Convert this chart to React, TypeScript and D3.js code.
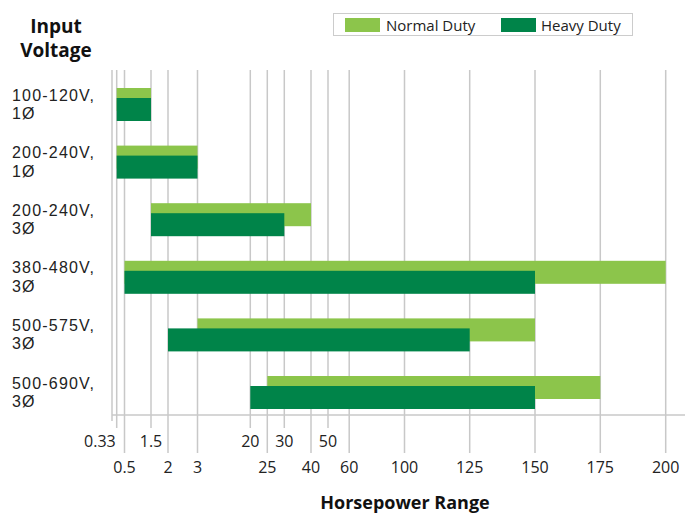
import React from 'react';
import * as d3 from 'd3';

// input voltage categories (two-line labels)
const categories = ['100-120V,|1Ø', '200-240V,|1Ø', '200-240V,|3Ø', '380-480V,|3Ø', '500-575V,|3Ø', '500-690V,|3Ø'];
// horsepower ranges [from, to]
const normalDuty = [[0.33, 1.5], [0.33, 3], [1.5, 40], [0.5, 200], [3, 150], [25, 175]];
const heavyDuty = [[0.33, 1.5], [0.33, 3], [1.5, 30], [0.5, 150], [2, 125], [20, 150]];
// x axis ticks, staggered on two rows
const tickValues = [0.33, 0.5, 1.5, 2, 3, 20, 25, 30, 40, 50, 60, 100, 125, 150, 175, 200];
const upperTicks = [0.33, 1.5, 20, 30, 50];
const tickLabels = ['0.33', '0.5', '1.5', '2', '3', '20', '25', '30', '40', '50', '60', '100', '125', '150', '175', '200'];

const W = 685;
const H = 517;
const font = '"Open Sans", "Noto Sans", sans-serif';
// tighter line box so the two-line labels can sit close together
const labelFont = '"Liberation Sans", Arial, sans-serif';
const light = '#8cc54b';
const dark = '#008449';
const grid = '#c8c8c8';

// the original axis is not linear, so it is a piecewise scale over the ticks
const tickPos = [116.7, 124.5, 151, 168, 197.5, 250.3, 267.3, 284.3, 311, 328, 349.2, 404.5, 469.7, 535, 600.3, 665.7];
const x = d3.scaleLinear().domain(tickValues).range(tickPos);
const y = d3.scalePoint().domain(categories).range([88, 376]);

const left = 112;
const top = 70;
const bottom = 415;
const barH = 23;
const offset = 10;

export default function App() {
    return (
        <svg width={W} height={H} style={{ position: 'absolute', left: 0, top: 0 }} fontFamily={font}>
            <rect width={W} height={H} fill="#fff" />
            {/* gridlines + ticks */}
            {tickValues.map(t => {
                const up = upperTicks.includes(t);
                return <line key={t} x1={x(t)} x2={x(t)} y1={top} y2={up ? 428 : 453} stroke={grid} strokeWidth={1.5} />;
            })}
            <line x1={left} x2={left} y1={top} y2={bottom + 6} stroke={grid} strokeWidth={1.5} />
            <line x1={left} x2={W} y1={bottom} y2={bottom} stroke={grid} strokeWidth={1.5} />

            {/* bars */}
            {categories.map((c, i) => {
                const y0 = y(c) as number;
                const n = normalDuty[i];
                const h = heavyDuty[i];
                return (
                    <g key={c}>
                        <rect x={x(n[0])} y={y0} width={x(n[1]) - x(n[0])} height={barH} fill={light} />
                        <rect x={x(h[0])} y={y0 + offset} width={x(h[1]) - x(h[0])} height={barH} fill={dark} />
                    </g>
                );
            })}

            {/* category labels */}
            {categories.map(c => {
                const y0 = y(c) as number;
                const [l1, l2] = c.split('|');
                return (
                    <g key={c} fontFamily={labelFont} fontSize={16} letterSpacing={1.2} fill="#222">
                        <text x={12} y={y0 + 12.5}>{l1}</text>
                        <text x={12} y={y0 + 31}>{l2}</text>
                    </g>
                );
            })}

            {/* x tick labels */}
            {tickValues.map((t, i) => {
                const up = upperTicks.includes(t);
                const first = i === 0;
                return (
                    <text key={t} x={first ? x(t) - 1 : x(t)} y={up ? 447 : 473} fontSize={16} fill="#222"
                        textAnchor={first ? 'end' : 'middle'}>{tickLabels[i]}</text>
                );
            })}

            {/* titles */}
            <text x={56} y={33} fontSize={19} fontWeight="bold" textAnchor="middle" fill="#111">Input</text>
            <text x={56} y={57} fontSize={19} fontWeight="bold" textAnchor="middle" fill="#111">Voltage</text>
            <text x={405} y={509} fontSize={18} fontWeight="bold" textAnchor="middle" fill="#111">Horsepower Range</text>

            {/* legend */}
            <rect x={333.5} y={13.5} width={299} height={22} fill="#fff" stroke="#ccc" />
            <rect x={345} y={18} width={35} height={14} fill={light} />
            <text x={386} y={30.5} fontSize={15} fill="#222">Normal Duty</text>
            <rect x={501} y={18} width={35} height={14} fill={dark} />
            <text x={541} y={30.5} fontSize={15} fill="#222">Heavy Duty</text>
        </svg>
    );
}
